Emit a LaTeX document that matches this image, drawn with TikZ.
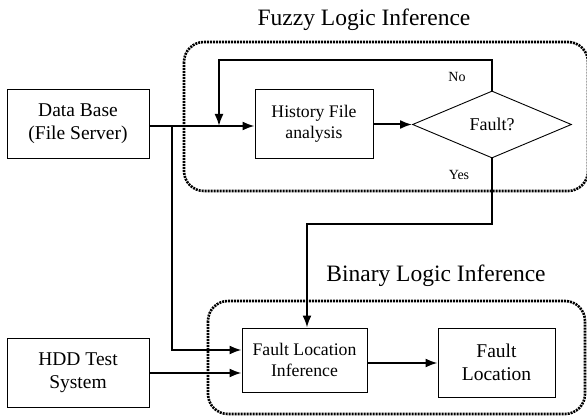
\documentclass[tikz,border=0pt]{standalone}
\usepackage{fontspec}
\setmainfont{Liberation Serif}
\usetikzlibrary{shapes.geometric,arrows.meta}
\begin{document}
\begin{tikzpicture}[x=1pt,y=-1pt,
  box/.style={draw,line width=0.9pt,inner sep=0pt,align=center,font=\fontsize{19.5}{23}\selectfont},
  frame/.style={line width=2.6pt,dash pattern=on 2pt off 1pt,rounded corners=20pt},
  thin/.style={line width=1.2pt},
  flow/.style={line width=2pt,-{Latex[length=12pt,width=9pt]}},
  title/.style={font=\fontsize{23.5}{26}\selectfont},
  lbl/.style={font=\fontsize{14}{16}\selectfont}]
\useasboundingbox (0,0) rectangle (587,419);

% dotted group frames and their titles
\draw[frame] (184,42) rectangle (588,191);
\draw[frame] (208,301) rectangle (585,414);
\node[title] (fuzzyt) at (364,20) {Fuzzy Logic Inference};
\node[title] (binaryt) at (436,276) {Binary Logic Inference};

% blocks
\node[box,minimum width=142pt,minimum height=69pt] (db) at (78,123.5) {Data Base\\(File Server)};
\node[box,minimum width=118pt,minimum height=69pt,font=\fontsize{17.7}{21}\selectfont] (hist) at (314,123.5) {History File\\analysis};
\node[draw,line width=0.9pt,diamond,aspect=2.37,minimum width=159pt,minimum height=67pt,inner sep=0pt,font=\fontsize{18}{21}\selectfont] (fault) at (492,124.5) {Fault?};
\node[box,minimum width=125pt,minimum height=64pt,font=\fontsize{17.7}{21}\selectfont] (fli) at (304.5,360) {Fault Location\\Inference};
\node[box,minimum width=117pt,minimum height=69pt] (floc) at (496.5,362.5) {Fault\\Location};
\node[box,minimum width=142pt,minimum height=69pt] (hdd) at (78,372.5) {HDD Test\\System};

% branch points
\coordinate (split) at (172,126);
\coordinate (merge) at (219,126);
\coordinate (loopTop) at (219,60);
\coordinate (noTop) at (492,60);
\coordinate (yesBend) at (492,224);
\coordinate (yesDrop) at (307,224);

% connectors
\draw[flow] (db.east |- split) -- (hist.west |- split);
\draw[thin] (fault.north) -- (noTop) -- (loopTop) -- ++(0,40);
\draw[flow] (loopTop) ++(0,38) -- (merge);
\draw[flow] (hist.east |- fault.west) -- (fault.west);
\draw[thin] (fault.south) -- (yesBend) -- (yesDrop) -- ++(0,50);
\draw[flow] (yesDrop) ++(0,48) -- (yesDrop |- fli.north);
\draw[thin] (split) -- (172,350);
\draw[flow] (171.4,350) -- (fli.west |- 0,350);
\draw[flow] (hdd.east |- 0,373) -- (fli.west |- 0,373);
\draw[flow] (fli.east |- 0,363) -- (floc.west |- 0,363);

% branch labels
\node[lbl] (no) at (457,77) {No};
\node[lbl] (yes) at (459,175) {Yes};
\end{tikzpicture}
\end{document}
